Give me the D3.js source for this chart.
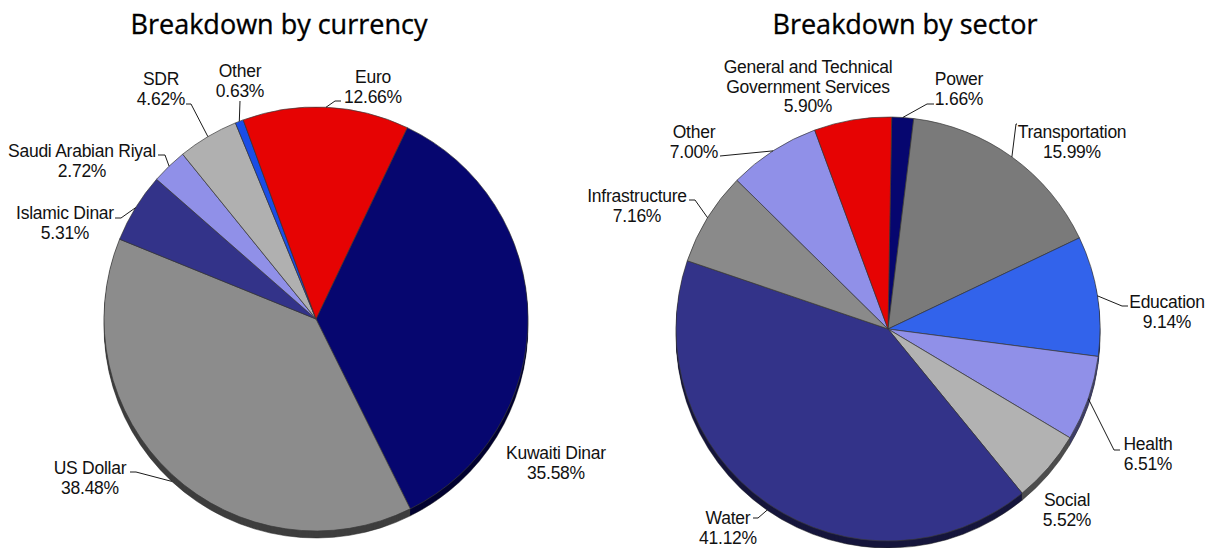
<!DOCTYPE html>
<html>
<head>
<meta charset="utf-8">
<script src="https://cdn.jsdelivr.net/npm/d3@7"></script>
<style>
  body { margin: 0; background: #fff; }
  .title { font-family: "Open Sans", "Liberation Sans", sans-serif; font-size: 27px; font-weight: 500;
           fill: #000; stroke: #000; stroke-width: 0.35px; }
  .lbl { font-family: "Liberation Sans", Arial, sans-serif; font-size: 17.5px; letter-spacing: -0.25px; fill: #111; }
</style>
</head>
<body>
<div id="chart"></div>
<script>
// data

var currencyNames  = ["Kuwaiti Dinar", "US Dollar", "Islamic Dinar", "Saudi Arabian Riyal", "SDR", "Other", "Euro"];
var currencyShares = [35.58, 38.48, 5.31, 2.72, 4.62, 0.63, 12.66];
var currencyColors = ["#06066f", "#8c8c8c", "#333389", "#9090e8", "#b0b0b0", "#1a4de6", "#e60303"];

var sectorNames  = ["Power", "Transportation", "Education", "Health", "Social", "Water",
                    "Infrastructure", "Other", "General and Technical Government Services"];
var sectorShares = [1.66, 15.99, 9.14, 6.51, 5.52, 41.12, 7.16, 7.00, 5.90];
var sectorColors = ["#06066f", "#7a7a7a", "#3263eb", "#9090e8", "#b2b2b2", "#333389",
                    "#8a8a8a", "#9090e8", "#e60303"];

// layout (label boxes placed like the original, leader lines end on the slice edge)
var currencyLayout = {
  title: "Breakdown by currency", titleX: 279, titleY: 34,
  cx: 316, cy: 319, r: 212, start: 25.5, depth: 7,
  labels: {
    "Kuwaiti Dinar":       { x: 556, y: 453 },
    "US Dollar":           { x: 90,  y: 468, from: [130, 472], elbow: 6 },
    "Islamic Dinar":       { x: 65,  y: 213, from: [115, 218], elbow: 6 },
    "Saudi Arabian Riyal": { x: 82,  y: 151, from: [158, 155], elbow: 7 },
    "SDR":                 { x: 161, y: 79,  from: [186, 104], elbow: 5 },
    "Other":               { x: 240, y: 71,  from: [240, 101], elbow: 0 },
    "Euro":                { x: 373, y: 77,  from: [341, 101], elbow: -6 }
  }
};

var sectorLayout = {
  title: "Breakdown by sector", titleX: 905, titleY: 34,
  cx: 888, cy: 329, r: 212, start: 1, depth: 7,
  labels: {
    "Power":          { x: 959,  y: 79,  from: [934, 104], elbow: -7 },
    "Transportation": { x: 1072, y: 132, from: [1017, 124], elbow: -1 },
    "Education":      { x: 1167, y: 302, from: [1128, 306], elbow: -6 },
    "Health":         { x: 1148, y: 444, from: [1120, 450], elbow: -6 },
    "Social":         { x: 1067, y: 500 },
    "Water":          { x: 728,  y: 518, from: [753, 518], elbow: 5 },
    "Infrastructure": { x: 637,  y: 196, from: [689, 200], elbow: 6 },
    "Other":          { x: 694,  y: 132, from: [720, 156], elbow: 0 },
    "General and Technical Government Services": { x: 808, y: 67, breakAt: "Government" }
  }
};

var svg = d3.select("#chart").append("svg")
  .attr("width", 1209)
  .attr("height", 548);

var fmt = d3.format(".2f");

function drawPie(names, shares, colors, L) {
  var data = names.map(function(n, i) { return { name: n, value: shares[i], color: colors[i] }; });
  var a0 = L.start * Math.PI / 180;
  var pie = d3.pie().sort(null).value(function(d) { return d.value; })
    .startAngle(a0).endAngle(a0 + 2 * Math.PI);
  var arcs = pie(data);
  var arc = d3.arc().innerRadius(0).outerRadius(L.r);

  // 3d side: stacked darker copies pushed down
  for (var k = L.depth; k >= 1; k--) {
    svg.append("g")
      .attr("transform", "translate(" + L.cx + "," + (L.cy + k) + ")")
      .selectAll("path").data(arcs).join("path")
      .attr("d", arc)
      .attr("fill", function(d) { return d3.color(d.data.color).darker(2.3); })
      .attr("stroke", k === L.depth ? "#222" : "none")
      .attr("stroke-width", 0.5);
  }

  // top face
  svg.append("g")
    .attr("transform", "translate(" + L.cx + "," + L.cy + ")")
    .selectAll("path").data(arcs).join("path")
    .attr("d", arc)
    .attr("fill", function(d) { return d.data.color; })
    .attr("stroke", "#3a3a3a")
    .attr("stroke-width", 0.7)
    .attr("stroke-linejoin", "round");

  // title
  svg.append("text").attr("class", "title")
    .attr("x", L.titleX).attr("y", L.titleY)
    .attr("text-anchor", "middle")
    .text(L.title);

  // leaders
  arcs.forEach(function(d) {
    var p = L.labels[d.data.name];
    if (!p || !p.from) return;
    var mid = (d.startAngle + d.endAngle) / 2;
    var ex = L.cx + L.r * Math.sin(mid);
    var ey = L.cy - L.r * Math.cos(mid);
    if (Math.cos(mid) < -0.5) ey += L.depth;
    var line = d3.line();
    svg.append("path")
      .attr("d", line([p.from, [p.from[0] + p.elbow, p.from[1]], [ex, ey]]))
      .attr("fill", "none")
      .attr("stroke", "#000")
      .attr("stroke-width", 0.9);
  });

  // labels
  arcs.forEach(function(d) {
    var p = L.labels[d.data.name];
    if (!p) return;
    var lines;
    if (p.breakAt) {
      var i = d.data.name.indexOf(p.breakAt);
      lines = [d.data.name.slice(0, i).trim(), d.data.name.slice(i)];
    } else {
      lines = [d.data.name];
    }
    lines.push(fmt(d.data.value) + "%");
    var t = svg.append("text").attr("class", "lbl").attr("text-anchor", "middle");
    lines.forEach(function(s, j) {
      t.append("tspan")
        .attr("x", p.x)
        .attr("y", p.y + j * 19.5)
        .attr("dy", "0.35em")
        .text(s);
    });
  });
}

drawPie(currencyNames, currencyShares, currencyColors, currencyLayout);
drawPie(sectorNames, sectorShares, sectorColors, sectorLayout);
</script>
</body>
</html>
